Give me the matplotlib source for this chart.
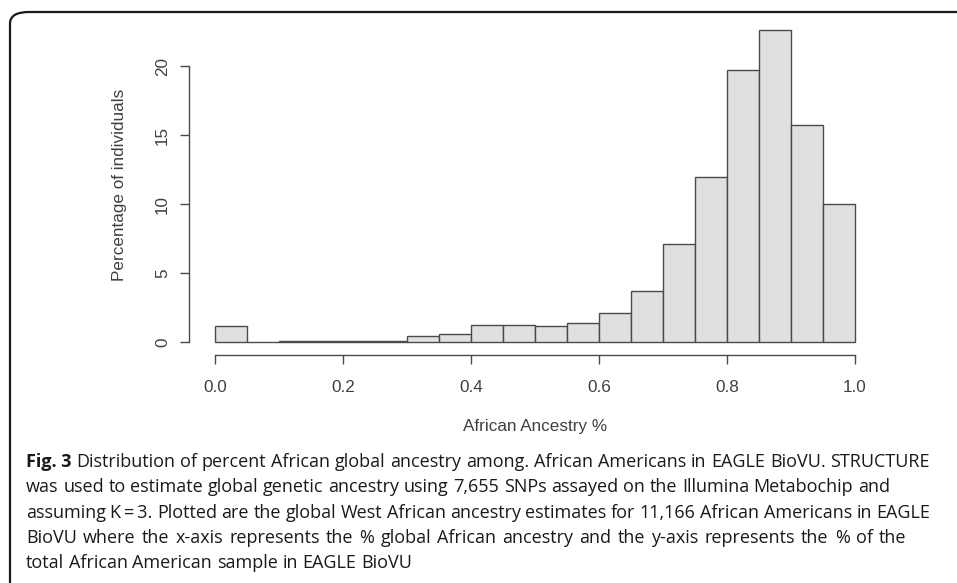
import matplotlib
matplotlib.use('Agg')
import matplotlib.pyplot as plt
from matplotlib.patches import FancyBboxPatch

# 直方圖資料 (bin 左邊界, 高度 %)
bin_left = [0.00, 0.05, 0.10, 0.15, 0.20, 0.25, 0.30, 0.35, 0.40, 0.45,
            0.50, 0.55, 0.60, 0.65, 0.70, 0.75, 0.80, 0.85, 0.90, 0.95]
pct = [1.16, 0.0, 0.05, 0.05, 0.05, 0.05, 0.41, 0.56, 1.25, 1.25,
       1.16, 1.36, 2.12, 3.72, 7.08, 11.93, 19.69, 22.6, 15.75, 10.02]
bin_width = 0.05

x_ticks = [0.0, 0.2, 0.4, 0.6, 0.8, 1.0]
x_ticklabels = ['0.0', '0.2', '0.4', '0.6', '0.8', '1.0']
y_ticks = [0, 5, 10, 15, 20]

caption_lines = [
    'Fig. 3 Distribution of percent African global ancestry among. African Americans in EAGLE BioVU. STRUCTURE',
    'was used to estimate global genetic ancestry using 7,655 SNPs assayed on the Illumina Metabochip and',
    'assuming K\u2009=\u20093. Plotted are the global West African ancestry estimates for 11,166 African Americans in EAGLE',
    'BioVU where the x-axis represents the % global African ancestry and the y-axis represents the % of the',
    'total African American sample in EAGLE BioVU',
]
# 每行右端 (px), 大致模擬原圖排版; None = 最後一行不拉伸
line_right = [930, 890, 930, 925, None]

W, H = 957, 583
fig = plt.figure(figsize=(W / 100, H / 100), dpi=100)
fig.patch.set_facecolor('white')

# 外框 (圓角, 右邊與下方被裁掉)
frame = FancyBboxPatch((10 / W, -0.2), 1.2, 1 - 12 / H + 0.2,
                       boxstyle='round,pad=0,rounding_size=0.02',
                       transform=fig.transFigure, fill=False,
                       edgecolor='#1a1a1a', linewidth=1.6)
fig.patches.append(frame)

# 座標區 (R 風格)
ax_l, ax_r = 189.4, 880.6
ax_t, ax_b = 17.7, 354.5
ax = fig.add_axes([ax_l / W, 1 - ax_b / H, (ax_r - ax_l) / W, (ax_b - ax_t) / H])
ax.bar(bin_left, pct, width=bin_width, align='edge',
       color='#e0e0e0', edgecolor='#4a4a4a', linewidth=1.0)
ax.set_xlim(-0.04, 1.04)
ax.set_ylim(-0.904, 23.5)

for s in ['top', 'right']:
    ax.spines[s].set_visible(False)
ax.spines['left'].set_bounds(0, 20)
ax.spines['bottom'].set_bounds(0, 1)
for s in ['left', 'bottom']:
    ax.spines[s].set_color('#4a4a4a')
    ax.spines[s].set_linewidth(1.0)

ax.set_xticks(x_ticks)
ax.set_xticklabels(x_ticklabels)
ax.set_yticks(y_ticks)
ax.set_yticklabels([str(v) for v in y_ticks], rotation=90, va='center')
ax.tick_params(axis='both', direction='out', length=6.5, width=1.0,
               color='#4a4a4a', labelcolor='#404040', labelsize=12.3)
ax.tick_params(axis='x', pad=12)
ax.tick_params(axis='y', pad=7.5)
for lab in ax.get_xticklabels() + ax.get_yticklabels():
    lab.set_family('Liberation Sans')

fig.text(535 / W, 1 - 427 / H, 'African Ancestry %', ha='center', va='center',
         fontsize=12.3, family='Liberation Sans', color='#404040')
fig.text(120 / W, 1 - 185 / H, 'Percentage of individuals', ha='center', va='center',
         rotation=90, fontsize=12.3, family='Liberation Sans', color='#404040')

# 圖說: 逐字放置, 字距只做小幅調整
cap_font = ['Open Sans', 'DejaVu Sans']
cap_size = 13
x0 = 26
y_base = [466.7, 492.2, 517.5, 542.7, 567.7]
r = fig.canvas.get_renderer()
t2 = fig.text(0, 0, 'a a', fontsize=cap_size, family=cap_font)
t1 = fig.text(0, 0, 'aa', fontsize=cap_size, family=cap_font)
space_w = t2.get_window_extent(renderer=r).width - t1.get_window_extent(renderer=r).width
t2.remove()
t1.remove()

for i, (line, yy, xr) in enumerate(zip(caption_lines, y_base, line_right)):
    words = line.split(' ')
    if i == 0:
        # "Fig. 3" 為粗體
        words = ['Fig. 3'] + words[2:]
    texts = []
    for j, w in enumerate(words):
        weight = 'bold' if (i == 0 and j == 0) else 'normal'
        t = fig.text(0, 1 - yy / H, w, ha='left', va='baseline', fontsize=cap_size,
                     fontweight=weight, family=cap_font, color='#1a1a1a')
        texts.append(t)
    widths = [t.get_window_extent(renderer=r).width for t in texts]
    gap = space_w
    if xr is not None:
        want = (xr - x0 - sum(widths)) / max(len(words) - 1, 1)
        gap = min(max(want, space_w - 0.5), space_w + 1.5)
    x = x0
    for t, wd in zip(texts, widths):
        t.set_x(x / W)
        x += wd + gap

fig.savefig('out.png', dpi=100)
